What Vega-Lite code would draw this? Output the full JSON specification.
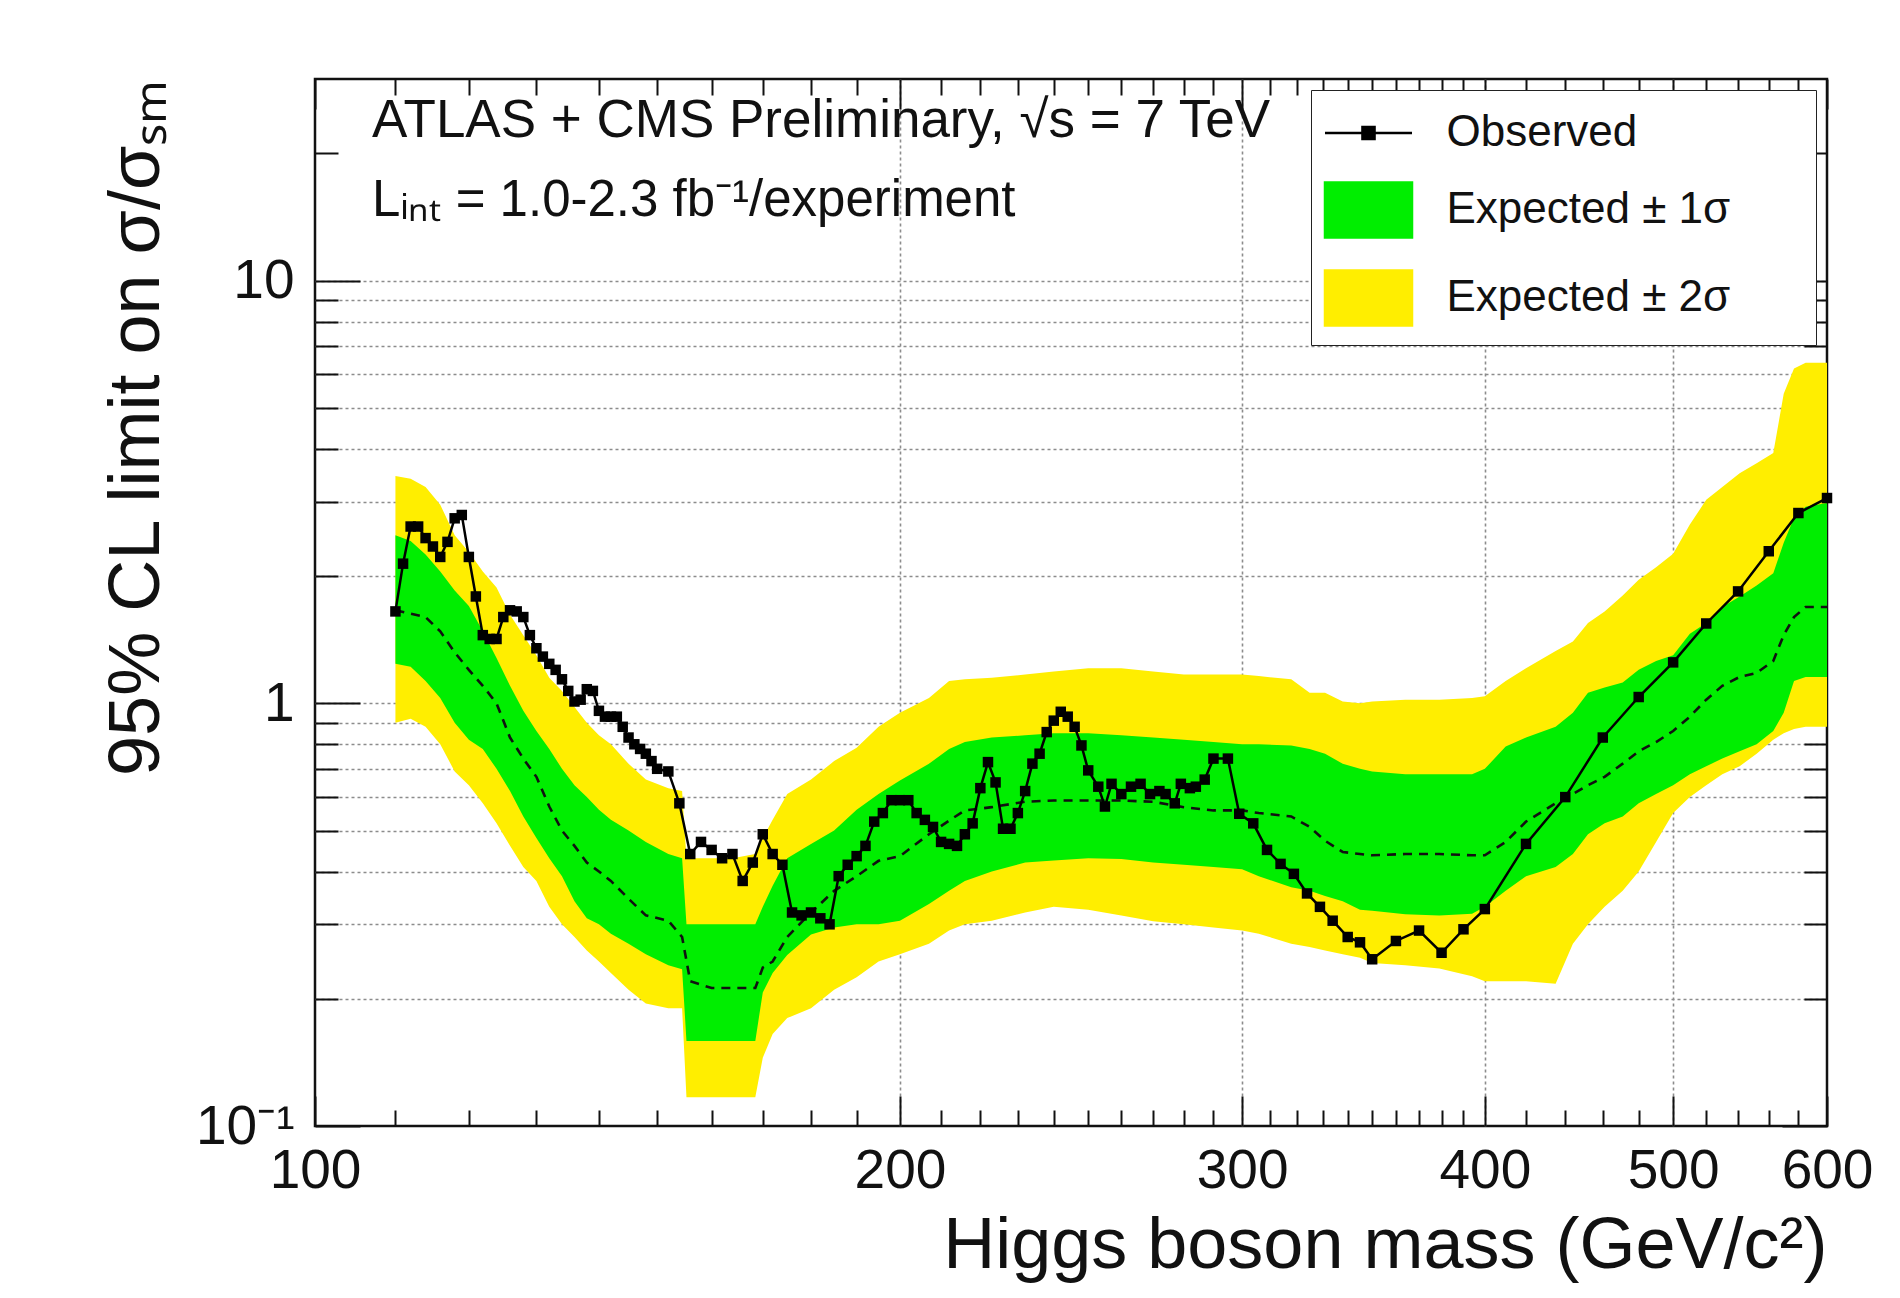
{
  "$schema": "https://vega.github.io/schema/vega-lite/v6.json",
  "width": 1512,
  "height": 1047,
  "autosize": {"type": "none"},
  "padding": {"left": 315, "top": 79, "right": 73, "bottom": 172},
  "background": "white",
  "config": {
    "font": "Liberation Sans",
    "view": {"stroke": "#111", "strokeWidth": 2.5},
    "axis": {
      "domain": false,
      "tickColor": "#111",
      "tickWidth": 2,
      "labelFont": "Liberation Sans",
      "labelColor": "#111",
      "labelFontSize": 55,
      "titleFont": "Liberation Sans",
      "titleColor": "#111",
      "titleFontWeight": "normal",
      "gridColor": "#8c8c8c",
      "gridDash": [3, 3],
      "gridWidth": 1.6,
      "labelOverlap": false,
      "labelFlush": false,
      "labelBound": false,
      "zindex": 1
    },
    "legend": {
      "orient": "top-right",
      "offset": 11,
      "zindex": 3,
      "fillColor": "white",
      "strokeColor": "#222",
      "padding": 14,
      "labelFontSize": 44,
      "labelFont": "Liberation Sans",
      "labelColor": "#111",
      "labelOffset": 49,
      "labelLimit": 0,
      "rowPadding": 22,
      "symbolSize": 3025,
      "symbolOffset": 14.5,
      "symbolStrokeWidth": 2.5,
      "symbolOpacity": 1
    }
  },
  "datasets": {
    "bands": [
      {"m": 110, "lo2": 0.90, "lo1": 1.24, "exp": 1.66, "hi1": 2.50, "hi2": 3.45},
      {"m": 112, "lo2": 0.92, "lo1": 1.22, "exp": 1.63, "hi1": 2.42, "hi2": 3.40},
      {"m": 114, "lo2": 0.88, "lo1": 1.13, "exp": 1.60, "hi1": 2.25, "hi2": 3.25},
      {"m": 116, "lo2": 0.80, "lo1": 1.03, "exp": 1.48, "hi1": 2.05, "hi2": 2.95},
      {"m": 118, "lo2": 0.69, "lo1": 0.90, "exp": 1.32, "hi1": 1.85, "hi2": 2.50},
      {"m": 120, "lo2": 0.64, "lo1": 0.82, "exp": 1.20, "hi1": 1.70, "hi2": 2.28},
      {"m": 122, "lo2": 0.58, "lo1": 0.78, "exp": 1.10, "hi1": 1.48, "hi2": 2.05},
      {"m": 124, "lo2": 0.52, "lo1": 0.70, "exp": 1.00, "hi1": 1.28, "hi2": 1.88},
      {"m": 126, "lo2": 0.46, "lo1": 0.62, "exp": 0.83, "hi1": 1.10, "hi2": 1.62},
      {"m": 128, "lo2": 0.41, "lo1": 0.54, "exp": 0.74, "hi1": 0.96, "hi2": 1.45},
      {"m": 130, "lo2": 0.38, "lo1": 0.48, "exp": 0.67, "hi1": 0.86, "hi2": 1.30},
      {"m": 132, "lo2": 0.33, "lo1": 0.43, "exp": 0.57, "hi1": 0.78, "hi2": 1.15},
      {"m": 134, "lo2": 0.30, "lo1": 0.39, "exp": 0.50, "hi1": 0.70, "hi2": 1.07},
      {"m": 136, "lo2": 0.28, "lo1": 0.34, "exp": 0.46, "hi1": 0.64, "hi2": 0.98},
      {"m": 138, "lo2": 0.26, "lo1": 0.31, "exp": 0.42, "hi1": 0.60, "hi2": 0.90},
      {"m": 140, "lo2": 0.245, "lo1": 0.30, "exp": 0.40, "hi1": 0.56, "hi2": 0.84},
      {"m": 142, "lo2": 0.23, "lo1": 0.285, "exp": 0.38, "hi1": 0.53, "hi2": 0.80},
      {"m": 145, "lo2": 0.21, "lo1": 0.27, "exp": 0.345, "hi1": 0.50, "hi2": 0.72},
      {"m": 148, "lo2": 0.195, "lo1": 0.255, "exp": 0.315, "hi1": 0.47, "hi2": 0.66},
      {"m": 152, "lo2": 0.19, "lo1": 0.24, "exp": 0.306, "hi1": 0.44, "hi2": 0.63},
      {"m": 154.5, "lo2": 0.19, "lo1": 0.235, "exp": 0.28, "hi1": 0.43, "hi2": 0.62},
      {"m": 155.3, "lo2": 0.117, "lo1": 0.159, "exp": 0.246, "hi1": 0.30, "hi2": 0.43},
      {"m": 156, "lo2": 0.117, "lo1": 0.159, "exp": 0.22, "hi1": 0.30, "hi2": 0.43},
      {"m": 160, "lo2": 0.117, "lo1": 0.159, "exp": 0.212, "hi1": 0.30, "hi2": 0.43},
      {"m": 164, "lo2": 0.117, "lo1": 0.159, "exp": 0.212, "hi1": 0.30, "hi2": 0.43},
      {"m": 168.5, "lo2": 0.117, "lo1": 0.159, "exp": 0.212, "hi1": 0.30, "hi2": 0.44},
      {"m": 170, "lo2": 0.145, "lo1": 0.207, "exp": 0.237, "hi1": 0.33, "hi2": 0.48},
      {"m": 172, "lo2": 0.165, "lo1": 0.23, "exp": 0.245, "hi1": 0.37, "hi2": 0.53},
      {"m": 175, "lo2": 0.18, "lo1": 0.254, "exp": 0.28, "hi1": 0.43, "hi2": 0.61},
      {"m": 180, "lo2": 0.19, "lo1": 0.284, "exp": 0.32, "hi1": 0.465, "hi2": 0.66},
      {"m": 185, "lo2": 0.21, "lo1": 0.295, "exp": 0.36, "hi1": 0.50, "hi2": 0.73},
      {"m": 190, "lo2": 0.225, "lo1": 0.30, "exp": 0.39, "hi1": 0.56, "hi2": 0.785},
      {"m": 195, "lo2": 0.245, "lo1": 0.30, "exp": 0.424, "hi1": 0.61, "hi2": 0.88},
      {"m": 200, "lo2": 0.255, "lo1": 0.306, "exp": 0.435, "hi1": 0.657, "hi2": 0.95},
      {"m": 207, "lo2": 0.27, "lo1": 0.335, "exp": 0.49, "hi1": 0.72, "hi2": 1.03},
      {"m": 212, "lo2": 0.29, "lo1": 0.36, "exp": 0.528, "hi1": 0.78, "hi2": 1.13},
      {"m": 216, "lo2": 0.30, "lo1": 0.38, "exp": 0.558, "hi1": 0.81, "hi2": 1.14},
      {"m": 223, "lo2": 0.306, "lo1": 0.40, "exp": 0.568, "hi1": 0.83, "hi2": 1.15},
      {"m": 232, "lo2": 0.32, "lo1": 0.42, "exp": 0.585, "hi1": 0.84, "hi2": 1.17},
      {"m": 240, "lo2": 0.33, "lo1": 0.425, "exp": 0.589, "hi1": 0.85, "hi2": 1.19},
      {"m": 250, "lo2": 0.325, "lo1": 0.43, "exp": 0.589, "hi1": 0.85, "hi2": 1.21},
      {"m": 260, "lo2": 0.315, "lo1": 0.428, "exp": 0.589, "hi1": 0.84, "hi2": 1.21},
      {"m": 270, "lo2": 0.305, "lo1": 0.42, "exp": 0.585, "hi1": 0.83, "hi2": 1.19},
      {"m": 280, "lo2": 0.30, "lo1": 0.415, "exp": 0.568, "hi1": 0.82, "hi2": 1.17},
      {"m": 290, "lo2": 0.295, "lo1": 0.41, "exp": 0.558, "hi1": 0.81, "hi2": 1.17},
      {"m": 300, "lo2": 0.29, "lo1": 0.405, "exp": 0.558, "hi1": 0.80, "hi2": 1.17},
      {"m": 306, "lo2": 0.285, "lo1": 0.39, "exp": 0.55, "hi1": 0.80, "hi2": 1.16},
      {"m": 318, "lo2": 0.27, "lo1": 0.367, "exp": 0.54, "hi1": 0.795, "hi2": 1.14},
      {"m": 325, "lo2": 0.265, "lo1": 0.36, "exp": 0.51, "hi1": 0.78, "hi2": 1.06},
      {"m": 331, "lo2": 0.26, "lo1": 0.35, "exp": 0.473, "hi1": 0.76, "hi2": 1.06},
      {"m": 338, "lo2": 0.255, "lo1": 0.34, "exp": 0.445, "hi1": 0.72, "hi2": 1.01},
      {"m": 345, "lo2": 0.25, "lo1": 0.325, "exp": 0.44, "hi1": 0.70, "hi2": 1.00},
      {"m": 350, "lo2": 0.243, "lo1": 0.323, "exp": 0.437, "hi1": 0.69, "hi2": 1.01},
      {"m": 364, "lo2": 0.24, "lo1": 0.317, "exp": 0.44, "hi1": 0.68, "hi2": 1.02},
      {"m": 379, "lo2": 0.236, "lo1": 0.315, "exp": 0.44, "hi1": 0.68, "hi2": 1.02},
      {"m": 394, "lo2": 0.226, "lo1": 0.318, "exp": 0.437, "hi1": 0.68, "hi2": 1.03},
      {"m": 400, "lo2": 0.22, "lo1": 0.33, "exp": 0.437, "hi1": 0.70, "hi2": 1.04},
      {"m": 410, "lo2": 0.22, "lo1": 0.36, "exp": 0.47, "hi1": 0.79, "hi2": 1.13},
      {"m": 420, "lo2": 0.22, "lo1": 0.39, "exp": 0.525, "hi1": 0.83, "hi2": 1.21},
      {"m": 435, "lo2": 0.217, "lo1": 0.41, "exp": 0.58, "hi1": 0.88, "hi2": 1.33},
      {"m": 444, "lo2": 0.27, "lo1": 0.44, "exp": 0.61, "hi1": 0.95, "hi2": 1.40},
      {"m": 452, "lo2": 0.30, "lo1": 0.49, "exp": 0.64, "hi1": 1.06, "hi2": 1.55},
      {"m": 461, "lo2": 0.33, "lo1": 0.52, "exp": 0.67, "hi1": 1.09, "hi2": 1.65},
      {"m": 471, "lo2": 0.36, "lo1": 0.54, "exp": 0.72, "hi1": 1.12, "hi2": 1.80},
      {"m": 480, "lo2": 0.40, "lo1": 0.58, "exp": 0.77, "hi1": 1.20, "hi2": 1.96},
      {"m": 490, "lo2": 0.47, "lo1": 0.61, "exp": 0.81, "hi1": 1.26, "hi2": 2.10},
      {"m": 500, "lo2": 0.55, "lo1": 0.64, "exp": 0.86, "hi1": 1.30, "hi2": 2.26},
      {"m": 510, "lo2": 0.60, "lo1": 0.68, "exp": 0.93, "hi1": 1.46, "hi2": 2.65},
      {"m": 520, "lo2": 0.64, "lo1": 0.71, "exp": 1.02, "hi1": 1.55, "hi2": 3.03},
      {"m": 530, "lo2": 0.68, "lo1": 0.74, "exp": 1.10, "hi1": 1.69, "hi2": 3.25},
      {"m": 541, "lo2": 0.71, "lo1": 0.77, "exp": 1.155, "hi1": 1.79, "hi2": 3.50},
      {"m": 552, "lo2": 0.76, "lo1": 0.80, "exp": 1.18, "hi1": 1.90, "hi2": 3.70},
      {"m": 563, "lo2": 0.82, "lo1": 0.86, "exp": 1.26, "hi1": 2.03, "hi2": 3.91},
      {"m": 570, "lo2": 0.85, "lo1": 0.95, "exp": 1.45, "hi1": 2.40, "hi2": 5.40},
      {"m": 577, "lo2": 0.87, "lo1": 1.13, "exp": 1.60, "hi1": 2.75, "hi2": 6.20},
      {"m": 585, "lo2": 0.88, "lo1": 1.155, "exp": 1.69, "hi1": 2.92, "hi2": 6.39},
      {"m": 600, "lo2": 0.88, "lo1": 1.155, "exp": 1.69, "hi1": 2.98, "hi2": 6.39}
    ],
    "obs": [
      {"m": 110, "v": 1.65}, {"m": 111, "v": 2.14}, {"m": 112, "v": 2.62}, {"m": 113, "v": 2.62},
      {"m": 114, "v": 2.46}, {"m": 115, "v": 2.35}, {"m": 116, "v": 2.22}, {"m": 117, "v": 2.41},
      {"m": 118, "v": 2.74}, {"m": 119, "v": 2.79}, {"m": 120, "v": 2.22}, {"m": 121, "v": 1.79},
      {"m": 122, "v": 1.45}, {"m": 123, "v": 1.42}, {"m": 124, "v": 1.42}, {"m": 125, "v": 1.60},
      {"m": 126, "v": 1.66}, {"m": 127, "v": 1.65}, {"m": 128, "v": 1.60}, {"m": 129, "v": 1.45},
      {"m": 130, "v": 1.35}, {"m": 131, "v": 1.29}, {"m": 132, "v": 1.24}, {"m": 133, "v": 1.20},
      {"m": 134, "v": 1.14}, {"m": 135, "v": 1.07}, {"m": 136, "v": 1.01}, {"m": 137, "v": 1.02},
      {"m": 138, "v": 1.08}, {"m": 139, "v": 1.07}, {"m": 140, "v": 0.96}, {"m": 141, "v": 0.93},
      {"m": 142, "v": 0.93}, {"m": 143, "v": 0.93}, {"m": 144, "v": 0.88}, {"m": 145, "v": 0.83},
      {"m": 146, "v": 0.80}, {"m": 147, "v": 0.78}, {"m": 148, "v": 0.76}, {"m": 149, "v": 0.73},
      {"m": 150, "v": 0.70}, {"m": 152, "v": 0.69}, {"m": 154, "v": 0.58}, {"m": 156, "v": 0.44},
      {"m": 158, "v": 0.47}, {"m": 160, "v": 0.45}, {"m": 162, "v": 0.43}, {"m": 164, "v": 0.44},
      {"m": 166, "v": 0.38}, {"m": 168, "v": 0.42}, {"m": 170, "v": 0.49}, {"m": 172, "v": 0.44},
      {"m": 174, "v": 0.415}, {"m": 176, "v": 0.32}, {"m": 178, "v": 0.315}, {"m": 180, "v": 0.32},
      {"m": 182, "v": 0.31}, {"m": 184, "v": 0.30}, {"m": 186, "v": 0.39}, {"m": 188, "v": 0.415},
      {"m": 190, "v": 0.435}, {"m": 192, "v": 0.46}, {"m": 194, "v": 0.525}, {"m": 196, "v": 0.55},
      {"m": 198, "v": 0.59}, {"m": 200, "v": 0.59}, {"m": 202, "v": 0.59}, {"m": 204, "v": 0.55},
      {"m": 206, "v": 0.53}, {"m": 208, "v": 0.51}, {"m": 210, "v": 0.47}, {"m": 212, "v": 0.465},
      {"m": 214, "v": 0.46}, {"m": 216, "v": 0.49}, {"m": 218, "v": 0.52}, {"m": 220, "v": 0.63},
      {"m": 222, "v": 0.726}, {"m": 224, "v": 0.65}, {"m": 226, "v": 0.505}, {"m": 228, "v": 0.505},
      {"m": 230, "v": 0.55}, {"m": 232, "v": 0.62}, {"m": 234, "v": 0.72}, {"m": 236, "v": 0.76},
      {"m": 238, "v": 0.855}, {"m": 240, "v": 0.91}, {"m": 242, "v": 0.955}, {"m": 244, "v": 0.93},
      {"m": 246, "v": 0.88}, {"m": 248, "v": 0.795}, {"m": 250, "v": 0.694}, {"m": 253, "v": 0.635},
      {"m": 255, "v": 0.57}, {"m": 257, "v": 0.645}, {"m": 260, "v": 0.61}, {"m": 263, "v": 0.635},
      {"m": 266, "v": 0.645}, {"m": 269, "v": 0.61}, {"m": 272, "v": 0.62}, {"m": 274, "v": 0.61},
      {"m": 277, "v": 0.58}, {"m": 279, "v": 0.645}, {"m": 282, "v": 0.63}, {"m": 284, "v": 0.635},
      {"m": 287, "v": 0.66}, {"m": 290, "v": 0.74}, {"m": 295, "v": 0.74}, {"m": 299, "v": 0.548},
      {"m": 304, "v": 0.52}, {"m": 309, "v": 0.45}, {"m": 314, "v": 0.417}, {"m": 319, "v": 0.395},
      {"m": 324, "v": 0.355}, {"m": 329, "v": 0.33}, {"m": 334, "v": 0.306}, {"m": 340, "v": 0.28},
      {"m": 345, "v": 0.272}, {"m": 350, "v": 0.248}, {"m": 360, "v": 0.274}, {"m": 370, "v": 0.29},
      {"m": 380, "v": 0.257}, {"m": 390, "v": 0.292}, {"m": 400, "v": 0.326}, {"m": 420, "v": 0.465},
      {"m": 440, "v": 0.60}, {"m": 460, "v": 0.83}, {"m": 480, "v": 1.035}, {"m": 500, "v": 1.25},
      {"m": 520, "v": 1.545}, {"m": 540, "v": 1.84}, {"m": 560, "v": 2.29}, {"m": 580, "v": 2.82},
      {"m": 600, "v": 3.06}
    ],
    "notes1": [{"label": "ATLAS + CMS Preliminary, √s = 7 TeV"}],
    "notes2": [{"label": "Lᵢₙₜ = 1.0-2.3 fb⁻¹/experiment"}]
  },
  "resolve": {"axis": {"x": "independent", "y": "independent"}},
  "layer": [
    {
      "data": {"name": "bands"},
      "mark": {"type": "area", "opacity": 1},
      "encoding": {
        "x": {
          "field": "m", "type": "quantitative",
          "scale": {"type": "log", "domain": [100, 600], "nice": false},
          "axis": {
            "orient": "bottom",
            "values": [100,110,120,130,140,150,160,170,180,190,200,210,220,230,240,250,260,270,280,290,300,310,320,330,340,350,360,370,380,390,400,420,440,460,480,500,520,540,560,580,600],
            "labelExpr": "indexof([100,200,300,400,500,600], datum.value) >= 0 ? '' + datum.value : ''",
            "tickSize": {"condition": {"test": "datum.value % 100 == 0", "value": -30}, "value": -16},
            "labelPadding": 48,
            "grid": true,
            "gridOpacity": {"condition": {"test": "datum.value > 150 && datum.value < 550 && datum.value % 100 == 0", "value": 1}, "value": 0},
            "title": "Higgs boson mass (GeV/c²)",
            "titleFontSize": 72,
            "titleAnchor": "end",
            "titlePadding": -2
          }
        },
        "y": {
          "field": "lo2", "type": "quantitative",
          "scale": {"type": "log", "domain": [0.1, 30], "nice": false},
          "axis": {
            "orient": "left",
            "values": [0.1,0.2,0.3,0.4,0.5,0.6,0.7,0.8,0.9,1,2,3,4,5,6,7,8,9,10,20],
            "labelExpr": "datum.value == 10 ? '10' : datum.value == 1 ? '1' : datum.value == 0.1 ? '10⁻¹' : ''",
            "tickSize": {"condition": {"test": "datum.value == 0.1 || datum.value == 1 || datum.value == 10", "value": -45}, "value": -23},
            "labelPadding": 66,
            "grid": true,
            "gridOpacity": {"condition": {"test": "datum.value > 0.15 && datum.value < 15", "value": 1}, "value": 0},
            "title": "95% CL limit on σ/σₛₘ",
            "titleFontSize": 72,
            "titleAnchor": "end",
            "titlePadding": 22
          }
        },
        "y2": {"field": "hi2"},
        "color": {
          "datum": "Expected ± 2σ",
          "scale": {"domain": ["Observed", "Expected ± 1σ", "Expected ± 2σ"], "range": ["black", "#00ee00", "#ffee00"]},
          "legend": {"title": null}
        }
      }
    },
    {
      "data": {"name": "bands"},
      "mark": {"type": "area", "opacity": 1},
      "encoding": {
        "x": {"field": "m", "type": "quantitative", "scale": {"type": "log", "domain": [100, 600], "nice": false}, "axis": null},
        "y": {"field": "lo1", "type": "quantitative", "scale": {"type": "log", "domain": [0.1, 30], "nice": false}, "axis": null},
        "y2": {"field": "hi1"},
        "color": {"datum": "Expected ± 1σ"}
      }
    },
    {
      "data": {"name": "bands"},
      "mark": {"type": "line", "color": "#111", "strokeDash": [9, 7], "strokeWidth": 2.6},
      "encoding": {
        "x": {"field": "m", "type": "quantitative", "scale": {"type": "log", "domain": [100, 600], "nice": false}, "axis": null},
        "y": {"field": "exp", "type": "quantitative", "scale": {"type": "log", "domain": [0.1, 30], "nice": false}, "axis": null}
      }
    },
    {
      "mark": {"type": "rule", "color": "#e8261c", "strokeWidth": 6},
      "encoding": {
        "y": {"datum": 1, "type": "quantitative", "scale": {"type": "log", "domain": [0.1, 30], "nice": false}, "axis": null}
      }
    },
    {
      "data": {"name": "obs"},
      "mark": {"type": "line", "strokeWidth": 2.5, "point": {"filled": true, "shape": "square", "size": 110}},
      "encoding": {
        "x": {"field": "m", "type": "quantitative", "scale": {"type": "log", "domain": [100, 600], "nice": false}, "axis": null},
        "y": {"field": "v", "type": "quantitative", "scale": {"type": "log", "domain": [0.1, 30], "nice": false}, "axis": null},
        "color": {"datum": "Observed"}
      }
    },
    {
      "data": {"values": []},
      "mark": {"type": "point", "filled": true},
      "encoding": {
        "x": {"field": "m", "type": "quantitative", "scale": {"type": "log", "domain": [100, 600], "nice": false}, "axis": null},
        "y": {"field": "v", "type": "quantitative", "scale": {"type": "log", "domain": [0.1, 30], "nice": false}, "axis": null},
        "color": {"datum": "Observed"},
        "shape": {
          "datum": "Observed",
          "scale": {"domain": ["Observed", "Expected ± 1σ", "Expected ± 2σ"], "range": ["M-1.582,0H1.582M-0.22,-0.22H0.22V0.22H-0.22ZM15.58,0", "M-1.582,-1H1.582V1H-1.582ZM15.58,0", "M-1.582,-1H1.582V1H-1.582ZM15.58,0"]},
          "legend": {"title": null}
        }
      }
    },
    {
      "data": {"name": "notes1"},
      "mark": {"type": "text", "align": "left", "baseline": "alphabetic", "fontSize": 53, "color": "#111"},
      "encoding": {
        "text": {"field": "label"},
        "x": {
          "datum": 107, "type": "quantitative",
          "scale": {"type": "log", "domain": [100, 600], "nice": false},
          "axis": {
            "orient": "top",
            "values": [100,110,120,130,140,150,160,170,180,190,200,210,220,230,240,250,260,270,280,290,300,310,320,330,340,350,360,370,380,390,400,420,440,460,480,500,520,540,560,580,600],
            "labels": false,
            "grid": false,
            "title": null,
            "tickSize": {"condition": {"test": "datum.value % 100 == 0", "value": -30}, "value": -16}
          }
        },
        "y": {
          "datum": 21.9, "type": "quantitative",
          "scale": {"type": "log", "domain": [0.1, 30], "nice": false},
          "axis": {
            "orient": "right",
            "values": [0.1,0.2,0.3,0.4,0.5,0.6,0.7,0.8,0.9,1,2,3,4,5,6,7,8,9,10,20],
            "labels": false,
            "grid": false,
            "title": null,
            "tickSize": {"condition": {"test": "datum.value == 0.1 || datum.value == 1 || datum.value == 10", "value": -45}, "value": -23}
          }
        }
      }
    },
    {
      "data": {"name": "notes2"},
      "mark": {"type": "text", "align": "left", "baseline": "alphabetic", "fontSize": 51, "color": "#111"},
      "encoding": {
        "text": {"field": "label"},
        "x": {"datum": 107, "type": "quantitative", "scale": {"type": "log", "domain": [100, 600], "nice": false}, "axis": null},
        "y": {"datum": 14.2, "type": "quantitative", "scale": {"type": "log", "domain": [0.1, 30], "nice": false}, "axis": null}
      }
    }
  ]
}
